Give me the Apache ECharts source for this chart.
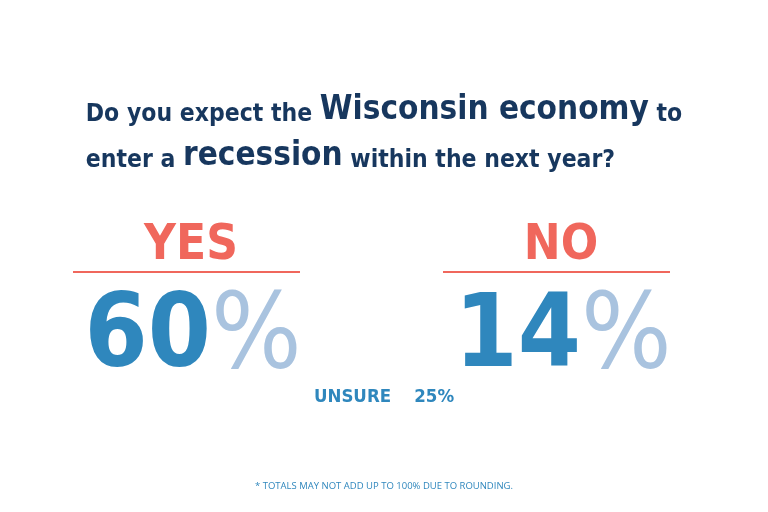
<!DOCTYPE html>
<html><head><meta charset="utf-8">
<script src="https://cdn.jsdelivr.net/npm/echarts@6/dist/echarts.min.js"></script>
<style>html,body{margin:0;background:#fff}#c{width:768px;height:512px}</style>
</head><body><div id="c"></div>
<script>
const answers = ['YES', 'NO'];
const values = [60, 14];
const unsureLabel = 'UNSURE';
const unsureValue = 25;
const titleParts = ['Do you expect the ', 'Wisconsin economy', ' to', 'enter a ', 'recession', ' within the next year?'];
const footnote = '* TOTALS MAY NOT ADD UP TO 100% DUE TO ROUNDING.';

const F = '"Liberation Sans Narrow","DejaVu Sans Condensed",sans-serif';
const navy = '#17375e', red = '#f0675c', blue = '#2f87bd', light = '#a9c3df';
const chart = echarts.init(document.getElementById('c'));
const centers = [188, 558];
const g = [];
g.push({type:'text', left:'center', top:94, style:{
  text:'{a|'+titleParts[0]+'}{b|'+titleParts[1]+'}{a|'+titleParts[2]+'}\n{a|'+titleParts[3]+'}{b|'+titleParts[4]+'}{a|'+titleParts[5]+'}',
  align:'center', rich:{a:{fontFamily:F,fontWeight:'bold',fontSize:24.5,fill:navy,lineHeight:46,verticalAlign:'bottom'},
  b:{fontFamily:F,fontWeight:'bold',fontSize:33,fill:navy,lineHeight:46,verticalAlign:'bottom'}}}});
answers.forEach((a,i)=>{
  const cx = centers[i];
  g.push({type:'text', x:cx+3, y:222, style:{text:a, fontFamily:F, fontWeight:'bold', fontSize:49, fill:red, align:'center', verticalAlign:'top'}});
  g.push({type:'line', shape:{x1:cx-115,y1:272,x2:cx+112,y2:272}, style:{stroke:red,lineWidth:2}});
  g.push({type:'text', x:cx+5, y:340, style:{text:'{n|'+values[i]+'}{p|%}', align:'center', verticalAlign:'middle',
    rich:{n:{fontFamily:F,fontWeight:'bold',fontSize:101,fill:blue},p:{fontFamily:F,fontSize:106,fill:light}}}});
});
g.push({type:'text', left:'center', top:388, style:{text:unsureLabel+'    '+unsureValue+'%', fontFamily:F, fontWeight:'bold', fontSize:18.5, fill:blue}});
g.push({type:'text', left:'center', top:481, style:{text:footnote, fontFamily:'"Open Sans",sans-serif', fontSize:9.5, fill:blue}});
chart.setOption({backgroundColor:'#fff', graphic:g});
</script></body></html>
